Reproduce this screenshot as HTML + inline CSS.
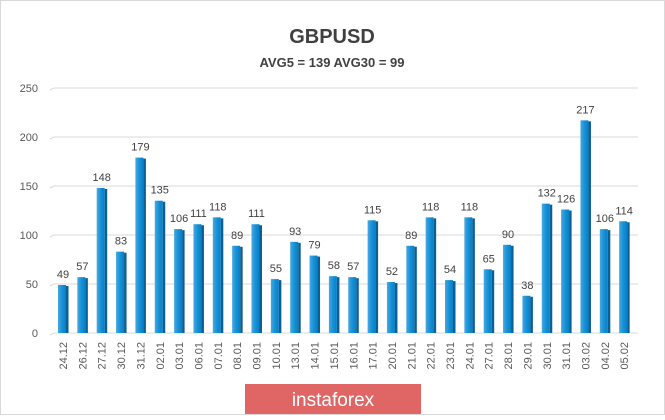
<!DOCTYPE html>
<html><head><meta charset="utf-8"><style>
body{margin:0;background:#fff}
</style></head><body>
<svg width="665" height="415" xmlns="http://www.w3.org/2000/svg" font-family="Liberation Sans, sans-serif">
<defs>
<linearGradient id="g" x1="0" x2="1"><stop offset="0" stop-color="#4aa8e0"/><stop offset="0.5" stop-color="#1592d8"/><stop offset="1" stop-color="#0b7dc2"/></linearGradient>
</defs>
<rect x="0.5" y="0.5" width="664" height="414" fill="#fff" stroke="#d9d9d9"/>
<text x="332" y="43" text-anchor="middle" font-size="20" font-weight="bold" fill="#404040">GBPUSD</text>
<text x="332" y="67" text-anchor="middle" font-size="13" font-weight="bold" fill="#404040">AVG5 = 139 AVG30 = 99</text>
<g id="grid" stroke="#d9d9d9" stroke-width="1"></g>
<g id="bars"></g>
<rect x="245" y="384" width="176" height="30" fill="#e06666"/>
<text x="333" y="406" text-anchor="middle" font-size="19" fill="#fff">instaforex</text>
<script>
var d=[["24.12",49],["26.12",57],["27.12",148],["30.12",83],["31.12",179],["02.01",135],["03.01",106],["06.01",111],["07.01",118],["08.01",89],["09.01",111],["10.01",55],["13.01",93],["14.01",79],["15.01",58],["16.01",57],["17.01",115],["20.01",52],["21.01",89],["22.01",118],["23.01",54],["24.01",118],["27.01",65],["28.01",90],["29.01",38],["30.01",132],["31.01",126],["03.02",217],["04.02",106],["05.02",114]];
var ns="http://www.w3.org/2000/svg",g=document.getElementById("grid"),b=document.getElementById("bars");
function el(t,a,p,txt){var e=document.createElementNS(ns,t);for(var k in a)e.setAttribute(k,a[k]);if(txt!=null)e.textContent=txt;p.appendChild(e);return e;}
var y0=333,s=0.98;
for(var v=0;v<=250;v+=50){var y=y0-v*s;el("line",{x1:54,x2:638,y1:y,y2:y},g);el("line",{x1:50,x2:54,y1:y+2,y2:y},g);
el("text",{x:38,y:y+4,"text-anchor":"end","font-size":11,fill:"#595959",stroke:"none"},g,v);}
d.forEach(function(r,i){var c=63+i*19.35,h=r[1]*s,y=y0-h;
el("rect",{x:c-5,y:y,width:8,height:h,fill:"url(#g)"},b);
el("rect",{x:c+3,y:y+1,width:2.5,height:h-1,fill:"#0a5f94"},b);
el("text",{x:c,y:y-7,"text-anchor":"middle","font-size":11,fill:"#404040"},b,r[1]);
el("text",{x:0,y:0,"text-anchor":"end","font-size":11,fill:"#595959",transform:"translate("+(c+4)+",342) rotate(-90)"},b,r[0]);});
</script>
</svg>
</body></html>
